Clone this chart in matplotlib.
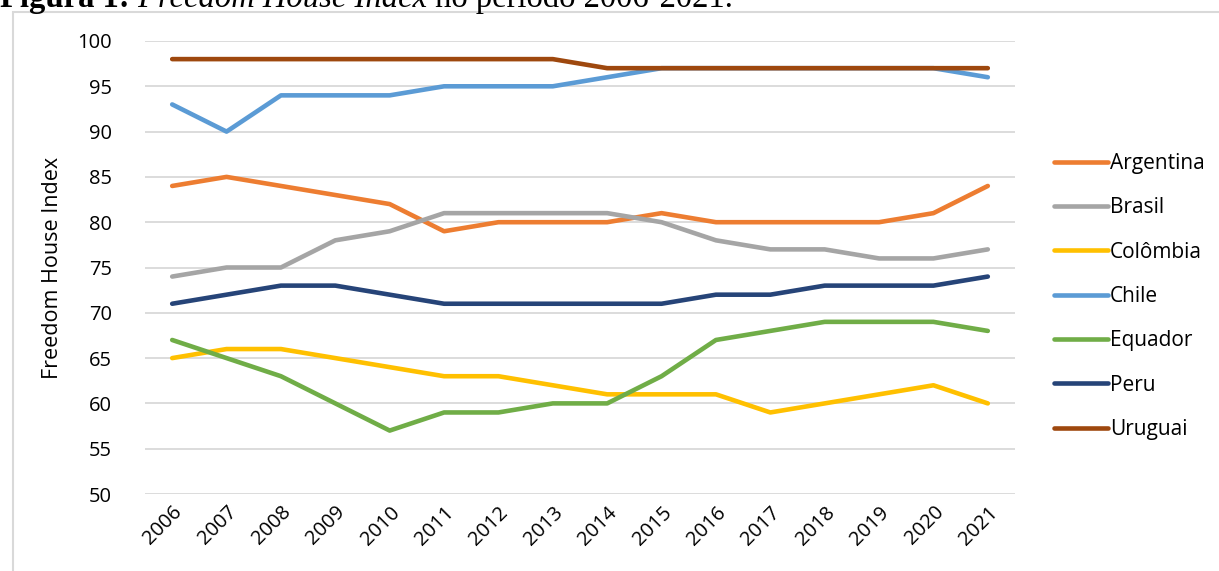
import matplotlib
matplotlib.use("Agg")
import matplotlib.pyplot as plt
from matplotlib.patches import Rectangle

years = [str(y) for y in range(2006, 2022)]
argentina = [84, 85, 84, 83, 82, 79, 80, 80, 80, 81, 80, 80, 80, 80, 81, 84]
brasil = [74, 75, 75, 78, 79, 81, 81, 81, 81, 80, 78, 77, 77, 76, 76, 77]
colombia = [65, 66, 66, 65, 64, 63, 63, 62, 61, 61, 61, 59, 60, 61, 62, 60]
chile = [93, 90, 94, 94, 94, 95, 95, 95, 96, 97, 97, 97, 97, 97, 97, 96]
equador = [67, 65, 63, 60, 57, 59, 59, 60, 60, 63, 67, 68, 69, 69, 69, 68]
peru = [71, 72, 73, 73, 72, 71, 71, 71, 71, 71, 72, 72, 73, 73, 73, 74]
uruguai = [98, 98, 98, 98, 98, 98, 98, 98, 97, 97, 97, 97, 97, 97, 97, 97]

series = [
    ("Argentina", argentina, "#ED7D31"),
    ("Brasil", brasil, "#A5A5A5"),
    ("Colômbia", colombia, "#FFC000"),
    ("Chile", chile, "#5B9BD5"),
    ("Equador", equador, "#70AD47"),
    ("Peru", peru, "#264478"),
    ("Uruguai", uruguai, "#9E480E"),
]

W, H = 1219, 571
fig = plt.figure(figsize=(W / 100, H / 100), dpi=100)
plt.rcParams['font.family'] = ['Open Sans', 'DejaVu Sans']

# chart frame
fig.patches.append(Rectangle((13 / W, -0.1), 1.2, (H - 12) / H + 0.1,
                             transform=fig.transFigure, fill=False,
                             edgecolor="#D9D9D9", lw=1.5))

ax = fig.add_axes([145 / W, 1 - 494 / H, (1015 - 145) / W, (494 - 41) / H])
x = list(range(len(years)))
for name, vals, col in series:
    ax.plot(x, vals, color=col, lw=3.3, label=name, solid_capstyle="round",
            solid_joinstyle="round")

ax.set_xlim(-0.5, len(years) - 0.5)
ax.set_ylim(50, 100)
ax.set_yticks(range(50, 101, 5))
ax.grid(axis="y", color="#D9D9D9", lw=1.3)
ax.set_axisbelow(True)
for s in ax.spines.values():
    s.set_visible(False)
ax.tick_params(length=0, labelsize=14.5, colors="black")
ax.tick_params(axis="y", pad=24)
ax.set_xticks(x)
ax.set_xticklabels(years, rotation=45, ha="right", rotation_mode="anchor")
ax.tick_params(axis="x", pad=6)
ax.set_ylabel("Freedom House Index", fontsize=15.5, labelpad=10)

leg = ax.legend(loc="center left", bbox_to_anchor=(1.035, 0.436), frameon=False,
                fontsize=15, handlelength=2.6, handletextpad=0.1, labelspacing=1.12,
                borderaxespad=0)

# title, partly cut at the top like the source
fig.canvas.draw()
r = fig.canvas.get_renderer()
xpos = 0
parts = [("Figura 1:", "bold", "normal"), (" Freedom House Index", "normal", "italic"),
         (" no período 2006-2021.", "normal", "normal")]
for txt, wt, st in parts:
    t = fig.text(xpos / W, 1 - 7 / H, txt, fontsize=23.5, fontweight=wt, fontstyle=st,
                 family="Liberation Serif", va="baseline", ha="left")
    bb = t.get_window_extent(renderer=r)
    xpos = bb.x1

fig.savefig("out.png", dpi=100)
